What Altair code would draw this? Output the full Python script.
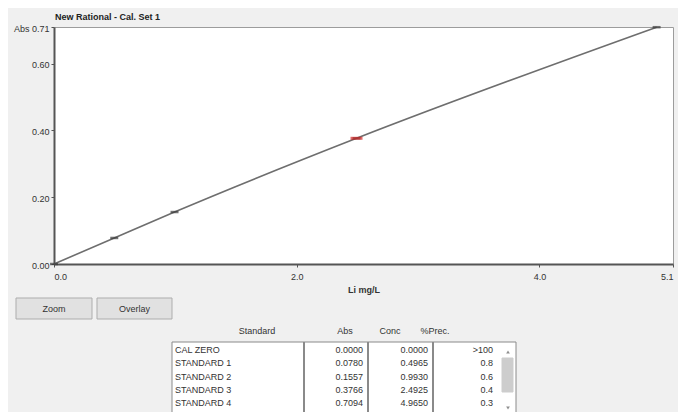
import altair as alt
import pandas as pd

# ---------------- data ----------------
standards = ["CAL ZERO", "STANDARD 1", "STANDARD 2", "STANDARD 3", "STANDARD 4"]
abs_values = [0.0000, 0.0780, 0.1557, 0.3766, 0.7094]
conc_values = [0.0000, 0.4965, 0.9930, 2.4925, 4.9650]
prec_values = [">100", "0.8", "0.6", "0.4", "0.3"]
x_ticks = [0.0, 2.0, 4.0, 5.1]
y_ticks = [0.00, 0.20, 0.40, 0.60, 0.71]
headers = ["Standard", "Abs", "Conc", "%Prec."]
buttons = ["Zoom", "Overlay"]
selected = "STANDARD 3"
title_text = "New Rational - Cal. Set 1"
x_title = "Li mg/L"

# ---------------- style / layout ----------------
FONT = "Liberation Sans"
TXT = "#333333"
BG = "#f0f0f0"

df = pd.DataFrame({
    "standard": standards,
    "abs": abs_values,
    "conc": conc_values,
    "prec": prec_values,
    "row": list(range(len(standards))),
})

base = alt.Chart(df)

x_enc = alt.X(
    "conc:Q",
    scale=alt.Scale(domain=[0, 5.1], nice=False, zero=True),
    axis=alt.Axis(values=x_ticks, format=".1f", title=x_title, orient="bottom",
                  labelPadding=5, titlePadding=4),
)
y_enc = alt.Y(
    "abs:Q",
    scale=alt.Scale(domain=[0, 0.71], nice=False, zero=True),
    axis=alt.Axis(values=y_ticks, title=None, orient="left", labelPadding=2,
                  labelOffset=1,
                  labelExpr="datum.value >= 0.705 ? 'Abs 0.71' : format(datum.value, '.2f')"),
)

line = base.mark_line(color="#6e6e6e", strokeWidth=1.6, interpolate="monotone").encode(x=x_enc, y=y_enc)
ticks = base.mark_tick(orient="horizontal", size=8, thickness=2.5, color="#3a3a3a").encode(
    x="conc:Q", y="abs:Q")
red = base.transform_filter(alt.datum.standard == selected).mark_tick(
    orient="horizontal", size=12, thickness=3, color="#d42a2a").encode(x="conc:Q", y="abs:Q")
plot = alt.layer(line, ticks, red)

one = pd.DataFrame({"k": [0]})


def label(text, x, y, align="center", bold=False, size=9, color=TXT):
    return alt.Chart(pd.DataFrame({"t": [text]})).mark_text(
        align=align, baseline="middle", font=FONT, fontSize=size,
        fontWeight="bold" if bold else "normal", color=color,
    ).encode(x=alt.value(x), y=alt.value(y), text="t:N")


def box(x1, x2, y1, y2, fill, stroke, sw=1):
    return alt.Chart(one).mark_rect(fill=fill, stroke=stroke, strokeWidth=sw).encode(
        x=alt.value(x1), x2=alt.value(x2), y=alt.value(y1), y2=alt.value(y2))


def vrule(x, y1, y2, color, sw):
    return alt.Chart(one).mark_rule(color=color, strokeWidth=sw).encode(
        x=alt.value(x), y=alt.value(y1), y2=alt.value(y2))


layers = []
# title
layers.append(label(title_text, 1, -10, align="left", bold=True, color="#222222"))

# buttons
btn_x = [(-38, 38), (43, 118)]
for name, (a, b) in zip(buttons, btn_x):
    layers.append(box(a, b, 271, 292, "#e1e1e1", "#adadad"))
    layers.append(label(name, (a + b) / 2, 281.5))

# table headers
hdr_x = [203, 291, 336, 381]
for h, hx in zip(headers, hdr_x):
    layers.append(label(h, hx, 304))

# list box
layers.append(box(118, 462, 315, 392, "white", "#8a8a8a"))
for dx in [250, 314, 379]:
    layers.append(vrule(dx, 315, 392, "#8a8a8a", 2))
# scrollbar
layers.append(box(448, 459, 331, 365, "#cdcdcd", "#cdcdcd"))
arrows = pd.DataFrame({"k": [0]})
layers.append(alt.Chart(arrows).mark_point(shape="triangle-up", filled=True, size=14, color="#606060").encode(
    x=alt.value(454), y=alt.value(325)))
layers.append(alt.Chart(arrows).mark_point(shape="triangle-down", filled=True, size=14, color="#606060").encode(
    x=alt.value(454), y=alt.value(381)))

# table rows (through a row scale)
row_y = alt.Y("row:Q", scale=alt.Scale(domain=[0, 4], range=[323, 376]), axis=None)
txt = dict(font=FONT, fontSize=9, color=TXT, baseline="middle")
names = base.mark_text(align="left", **txt).encode(x=alt.value(121), y=row_y, text="standard:N")
absc = base.mark_text(align="right", **txt).encode(x=alt.value(309), y=row_y,
                                                   text=alt.Text("abs:Q", format=".4f"))
concc = base.mark_text(align="right", **txt).encode(x=alt.value(374), y=row_y,
                                                    text=alt.Text("conc:Q", format=".4f"))
precc = base.mark_text(align="right", **txt).encode(x=alt.value(439), y=row_y, text="prec:N")

chart = alt.layer(plot, *layers, names, absc, concc, precc).resolve_scale(
    x="independent", y="independent"
).properties(
    width=619,
    height=237,
    padding={"left": 46, "top": 19, "right": 5, "bottom": 148},
    autosize=alt.AutoSizeParams(type="none"),
    background=BG,
).configure_view(
    fill="white", stroke="#9c9c9c", strokeWidth=1
).configure_axis(
    domainColor="#555555", domainWidth=2, tickColor="#555555", tickSize=3,
    labelFont=FONT, labelFontSize=9, labelColor=TXT, grid=False,
    titleFont=FONT, titleFontSize=9, titleFontWeight="bold", titleColor=TXT,
)

chart.save("out.html", embed_options={"renderer": "svg", "actions": False})
